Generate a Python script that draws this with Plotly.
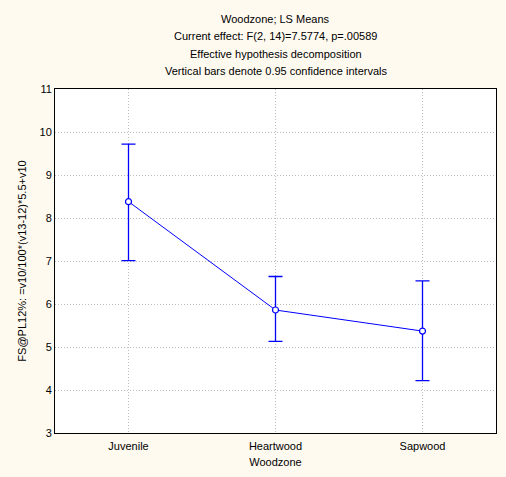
import plotly.graph_objects as go

categories = ["Juvenile", "Heartwood", "Sapwood"]
means = [8.38, 5.86, 5.37]
upper = [9.72, 6.64, 6.54]
lower = [7.01, 5.13, 4.22]
y_ticks = [3, 4, 5, 6, 7, 8, 9, 10, 11]

err_plus = [u - m for u, m in zip(upper, means)]
err_minus = [m - l for m, l in zip(means, lower)]

fig = go.Figure()
fig.add_trace(go.Scatter(
    x=list(range(len(categories))), y=means,
    mode="lines+markers",
    line=dict(color="#0000ff", width=1),
    marker=dict(symbol="circle", size=6, color="#ffffff", line=dict(width=1.2, color="#0000ff")),
    error_y=dict(type="data", symmetric=False, array=err_plus, arrayminus=err_minus,
                 color="#0000ff", thickness=1.3, width=7),
    showlegend=False,
))

title_lines = ["Woodzone; LS Means",
               "Current effect: F(2, 14)=7.5774, p=.00589",
               "Effective hypothesis decomposition",
               "Vertical bars denote 0.95 confidence intervals"]
for i, t in enumerate(title_lines):
    fig.add_annotation(text=t, xref="paper", yref="paper", x=0.5, y=1,
                       yshift=70 - 17.3 * i, showarrow=False,
                       font=dict(size=11, color="#000000"), xanchor="center", yanchor="middle")

fig.update_layout(
    width=506, height=477,
    margin=dict(l=55, r=10, t=89, b=44),
    paper_bgcolor="#fffaf0",
    plot_bgcolor="#ffffff",
    font=dict(family="Liberation Sans, Arial, sans-serif", size=11, color="#000000"),
    xaxis=dict(
        tickmode="array", tickvals=list(range(len(categories))), ticktext=categories,
        range=[-0.5, 2.5], showgrid=True, gridcolor="#bdbdbd", griddash="1px,2px", gridwidth=1,
        showline=True, linecolor="#000000", linewidth=1, mirror=True, zeroline=False,
        ticks="", ticklabelstandoff=3,
        title=dict(text="Woodzone", font=dict(size=11), standoff=7),
    ),
    yaxis=dict(
        tickmode="array", tickvals=y_ticks, range=[3, 11],
        showgrid=True, gridcolor="#bdbdbd", griddash="1px,2px", gridwidth=1,
        showline=True, linecolor="#000000", linewidth=1, mirror=True, zeroline=False,
        ticks="", ticklen=0,
        title=dict(text="FS@PL12%: =v10/100*(v13-12)*5.5+v10", font=dict(size=11), standoff=10),
    ),
)

fig.write_html("out.html")
